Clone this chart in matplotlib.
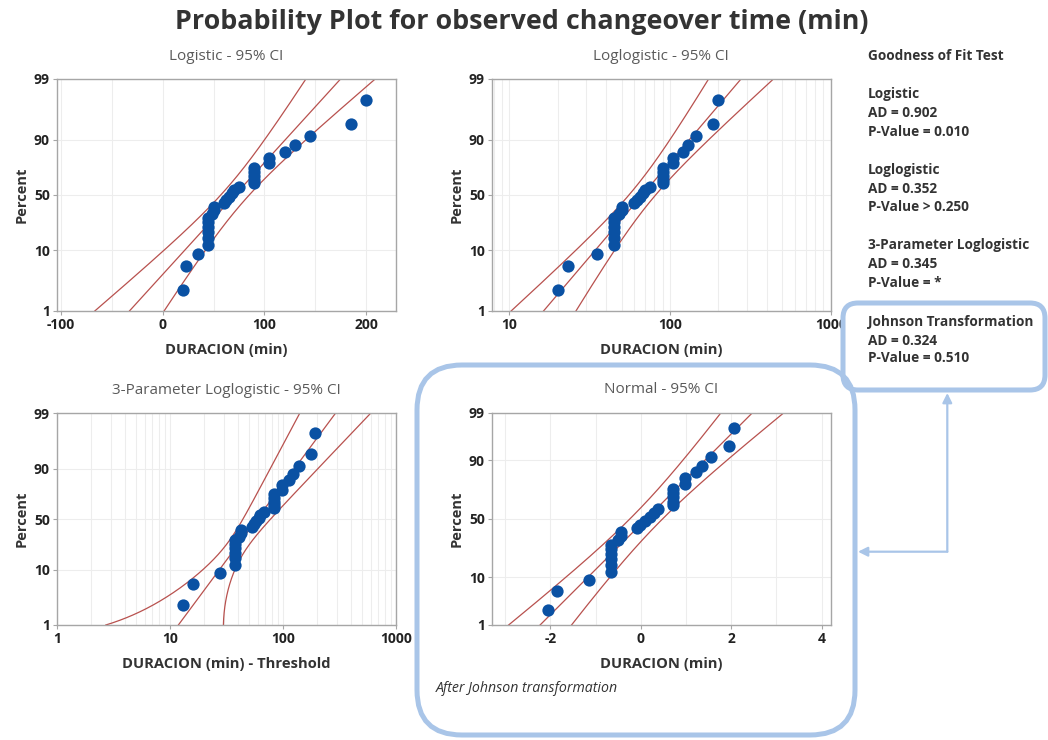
import numpy as np
import matplotlib
matplotlib.use('Agg')
import matplotlib.pyplot as plt
from matplotlib.patches import FancyBboxPatch, FancyArrowPatch
from matplotlib.ticker import FixedLocator, NullFormatter
from statistics import NormalDist

plt.rcParams['font.family'] = ['Open Sans', 'DejaVu Sans']
plt.rcParams['axes.unicode_minus'] = False

# observed changeover times, sorted (min)
duracion = [20, 23, 35, 45, 45, 45, 45, 45, 45, 48, 50, 50, 60, 62, 65, 68, 70, 75,
            90, 90, 90, 90, 90, 105, 105, 120, 130, 145, 185, 200]
# the same observations after the Johnson transformation
johnson = [-2.05, -1.85, -1.15, -0.66, -0.66, -0.66, -0.66, -0.66, -0.66, -0.50, -0.45, -0.45,
           -0.08, -0.02, 0.09, 0.20, 0.29, 0.37, 0.71, 0.71, 0.71, 0.71, 0.71, 0.97, 0.97,
           1.23, 1.36, 1.56, 1.95, 2.06]
threshold = 7.0

# fitted parameters
logistic_fit = (71.1, 22.6)          # location, scale
loglogistic_fit = (4.207, 0.308)     # ln location, ln scale
loglog3_fit = (4.076, 0.348)         # ln location, ln scale of (x - threshold)
loglog3_var = (72.1, 0.0739, 0.00356, -2.185)   # var thr, var mu, var sigma, cov thr-mu
normal_fit = (0.12, 1.01)

pct_ticks = [1, 10, 50, 90, 99]

gof_lines = [
    ("Goodness of Fit Test", 56),
    ("Logistic", 94), ("AD = 0.902", 113), ("P-Value = 0.010", 132),
    ("Loglogistic", 170), ("AD = 0.352", 189), ("P-Value > 0.250", 207),
    ("3-Parameter Loglogistic", 245), ("AD = 0.345", 264), ("P-Value = *", 283),
    ("Johnson Transformation", 322), ("AD = 0.324", 341), ("P-Value = 0.510", 358),
]

BLUE = '#0a51a3'
RED = '#b8514e'
BOX = '#a9c5e8'
W, H = 1048, 740


def logit_fwd(p):
    p = np.asarray(p, dtype=float)
    with np.errstate(all='ignore'):
        return np.log(p / (100 - p))


def logit_inv(z):
    z = np.asarray(z, dtype=float)
    return 100 / (1 + np.exp(-z))


_nd = NormalDist()
norm_fwd = np.vectorize(lambda p: _nd.inv_cdf(p / 100) if 0 < p < 100 else np.nan, otypes=[float])
norm_inv = np.vectorize(lambda z: _nd.cdf(z) * 100, otypes=[float])

n = len(duracion)
x_obs = np.array(duracion, dtype=float)
pct = (np.arange(1, n + 1) - 0.3) / (n + 0.4) * 100   # median ranks

fig = plt.figure(figsize=(W / 100, H / 100), dpi=100)


def make_ax(left, top, right, bottom):
    return fig.add_axes([left / W, 1 - bottom / H, (right - left) / W, (bottom - top) / H])


def style(ax, title, xlabel, fwd, inv):
    ax.set_yscale('function', functions=(fwd, inv))
    ax.set_ylim(1, 99)
    ax.yaxis.set_major_locator(FixedLocator(pct_ticks))
    ax.yaxis.set_minor_locator(FixedLocator([]))
    ax.set_yticklabels([str(t) for t in pct_ticks])
    for sp in ax.spines.values():
        sp.set_color('#a6a6a6')
        sp.set_linewidth(1.0)
    ax.grid(True, which='both', color='#ededed', lw=0.8, zorder=0)
    ax.set_axisbelow(True)
    ax.tick_params(which='major', length=3, color='#a6a6a6', pad=2,
                   labelsize=10, labelcolor='#222222')
    ax.tick_params(which='minor', length=0)
    for lab in ax.get_xticklabels() + ax.get_yticklabels():
        lab.set_fontweight('bold')
    bb = ax.get_position()
    fig.text((bb.x0 + bb.x1) / 2, bb.y1 + 23 / H, title, fontsize=11, color='#5a5a5a',
             ha='center', va='center')
    ax.set_xlabel(xlabel, fontsize=10.6, fontweight='bold', color='#333333', labelpad=8)
    ax.set_ylabel('Percent', fontsize=10.5, fontweight='bold', color='#333333', labelpad=4)


def draw_lines(ax, x_list, p):
    for xx in x_list:
        ax.plot(xx, p, color=RED, lw=0.9, zorder=2)


z_l = np.linspace(logit_fwd(1.0), logit_fwd(99.0), 400)
p_l = logit_inv(z_l)
minor_log = [m * 10**e for e in range(0, 3) for m in range(2, 10)]
MS = 78

# --- Logistic ---
ax1 = make_ax(56.7, 79, 396, 311)
mu, s = logistic_fit
xm = mu + s * z_l
sd = np.sqrt(3 * s**2 / n + z_l**2 * 9 * s**2 / (n * (3 + np.pi**2)))
draw_lines(ax1, [xm, xm - 1.96 * sd, xm + 1.96 * sd], p_l)
ax1.scatter(x_obs, pct, s=MS, color=BLUE, zorder=3, linewidths=0)
ax1.set_xlim(-104.3, 229.5)
ax1.xaxis.set_major_locator(FixedLocator([-100, 0, 100, 200]))
ax1.xaxis.set_minor_locator(FixedLocator([-50, 50, 150]))
style(ax1, 'Logistic - 95% CI', 'DURACION (min)', logit_fwd, logit_inv)

# --- Loglogistic ---
ax2 = make_ax(491.7, 79, 830.7, 311)
mu, s = loglogistic_fit
lm = mu + s * z_l
sd = np.sqrt(3 * s**2 / n + z_l**2 * 9 * s**2 / (n * (3 + np.pi**2)))
draw_lines(ax2, [np.exp(lm), np.exp(lm - 1.96 * sd), np.exp(lm + 1.96 * sd)], p_l)
ax2.scatter(x_obs, pct, s=MS, color=BLUE, zorder=3, linewidths=0)
ax2.set_xscale('log')
ax2.set_xlim(7.76, 1000)
ax2.xaxis.set_major_locator(FixedLocator([10, 100, 1000]))
ax2.xaxis.set_minor_locator(FixedLocator(minor_log))
ax2.xaxis.set_minor_formatter(NullFormatter())
ax2.set_xticklabels(['10', '100', '1000'])
style(ax2, 'Loglogistic - 95% CI', 'DURACION (min)', logit_fwd, logit_inv)

# --- 3-Parameter Loglogistic ---
ax3 = make_ax(56.7, 413.3, 396, 625)
mu, s = loglog3_fit
vt, vm, vs, c = loglog3_var
ex = np.exp(mu + s * z_l)
xp = threshold + ex
var = vt + ex**2 * (vm + z_l**2 * vs) + 2 * ex * c
kk = 1.96 * np.sqrt(var) / xp
low3 = xp * np.exp(-kk) - threshold
low3 = np.where(low3 > 0, low3, np.nan)
draw_lines(ax3, [ex, low3, xp * np.exp(kk) - threshold], p_l)
ax3.scatter(x_obs - threshold, pct, s=MS, color=BLUE, zorder=3, linewidths=0)
ax3.set_xscale('log')
ax3.set_xlim(1, 1000)
ax3.xaxis.set_major_locator(FixedLocator([1, 10, 100, 1000]))
ax3.xaxis.set_minor_locator(FixedLocator(minor_log))
ax3.xaxis.set_minor_formatter(NullFormatter())
ax3.set_xticklabels(['1', '10', '100', '1000'])
style(ax3, '3-Parameter Loglogistic - 95% CI', 'DURACION (min) - Threshold', logit_fwd, logit_inv)

# --- Normal after Johnson transformation ---
ax4 = make_ax(491.7, 412.7, 830.7, 625)
z_n = np.linspace(norm_fwd(1.0), norm_fwd(99.0), 400)
p_n = norm_inv(z_n)
mu, s = normal_fit
xm = mu + s * z_n
sd = s * np.sqrt((1 + z_n**2 / 2) / n)
draw_lines(ax4, [xm, xm - 1.96 * sd, xm + 1.96 * sd], p_n)
ax4.scatter(johnson, pct, s=MS, color=BLUE, zorder=3, linewidths=0)
ax4.set_xlim(-3.3, 4.2)
ax4.xaxis.set_major_locator(FixedLocator([-2, 0, 2, 4]))
ax4.xaxis.set_minor_locator(FixedLocator([-3, -1, 1, 3]))
style(ax4, 'Normal - 95% CI', 'DURACION (min)', norm_fwd, norm_inv)
fig.text(436 / W, 1 - 689 / H, 'After Johnson transformation', fontsize=10.2, style='italic',
         color='#333333', va='center', ha='left')

# title
fig.text(522 / W, 1 - 22 / H, 'Probability Plot for observed changeover time (min)',
         fontsize=19.4, fontweight='bold', color='#333333', ha='center', va='center')

# goodness of fit block
for txt, y in gof_lines:
    fig.text(868 / W, 1 - y / H, txt, fontsize=9.8, fontweight='bold', color='#333333',
             ha='left', va='center', zorder=10)

# highlight boxes and arrows (inches, origin bottom-left)
tr = fig.dpi_scale_trans
box1 = FancyBboxPatch((843 / 100, (H - 390) / 100), 2.02, 0.87,
                      boxstyle='round,pad=0,rounding_size=0.15', transform=tr,
                      facecolor='white', edgecolor=BOX, lw=3.6, zorder=5)
box2 = FancyBboxPatch((417 / 100, (H - 735) / 100), 4.38, 3.70,
                      boxstyle='round,pad=0,rounding_size=0.45', transform=tr,
                      facecolor='none', edgecolor=BOX, lw=3.6, zorder=5)
fig.add_artist(box1)
fig.add_artist(box2)
corner = (947.3 / 100, (H - 551.7) / 100)
for tip in [(947.3 / 100, (H - 393) / 100), (858 / 100, (H - 551.7) / 100)]:
    fig.add_artist(FancyArrowPatch(corner, tip, transform=tr, arrowstyle='-|>',
                                   mutation_scale=14, color=BOX, lw=1.6,
                                   shrinkA=0, shrinkB=0, zorder=6))

fig.savefig('out.png', dpi=100)
